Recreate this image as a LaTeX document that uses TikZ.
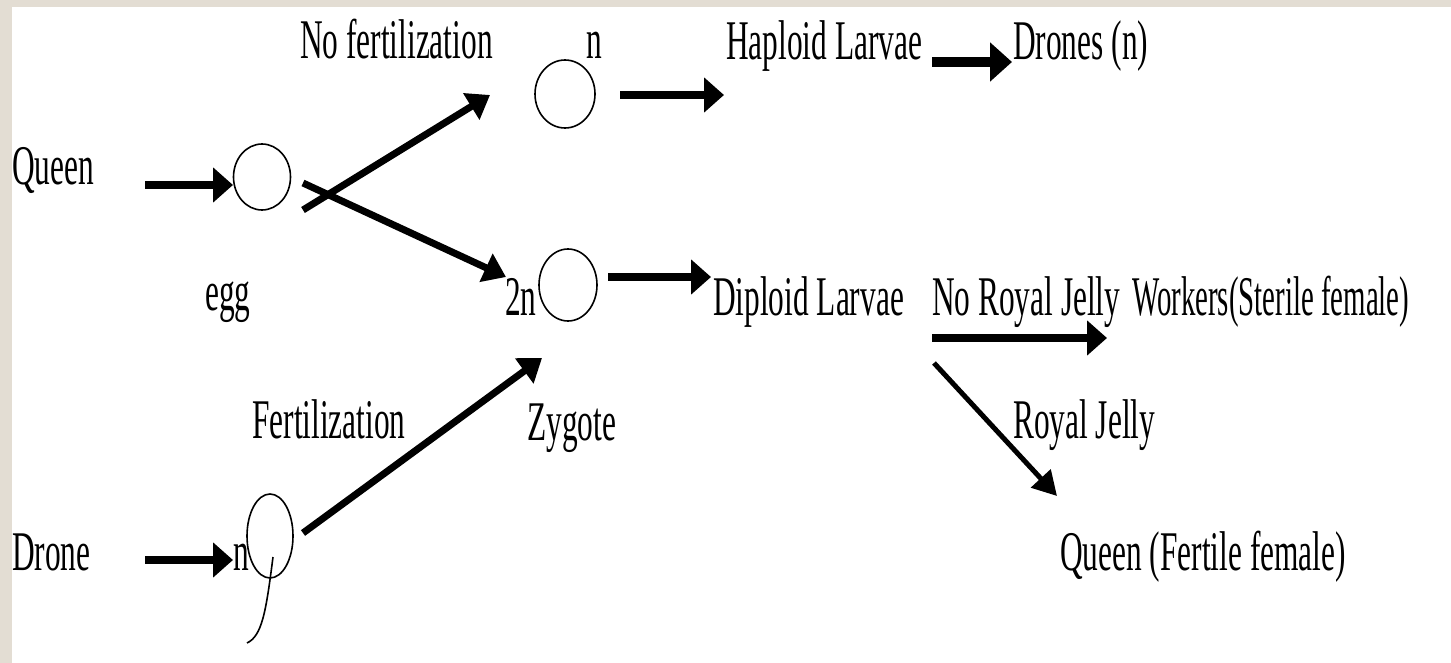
\documentclass[tikz,border=0pt]{standalone}
\usepackage{fontspec}
\setmainfont{Liberation Serif}[FakeStretch=0.56]
\newfontfamily\narrowserif{Liberation Serif}[FakeStretch=0.515]
\usetikzlibrary{arrows.meta,shapes.geometric}
\definecolor{frame}{RGB}{227,221,211}
\tikzset{
  lbl/.style={inner sep=0pt, anchor=base west, font=\fontsize{56}{60}\selectfont},
  cell/.style={ellipse, draw, line width=1.6pt, inner sep=0pt},
  arr/.style={line width=7.5pt, -{Triangle[length=20pt,width=34pt]}},
  darr/.style={line width=7pt, -{Triangle[length=22pt,width=30pt]}}
}
\begin{document}
\begin{tikzpicture}[x=1pt,y=-1pt]
\useasboundingbox (0,0) rectangle (1451,663);
\fill[frame] (0,0) rectangle (1451,663);
\fill[white] (12,7) rectangle (1451,663);

% cells
\node[cell, minimum width=57, minimum height=66] (egg) at (262,177) {};
\node[cell, minimum width=60, minimum height=68] (hap) at (565,94) {};
\node[cell, minimum width=58, minimum height=72] (zyg) at (568,285) {};
\node[cell, minimum width=46, minimum height=84] (sperm) at (270,536) {};

% labels
\node[lbl] (queen) at (12,185) {Queen};
\node[lbl] (egglbl) at (205,310) {egg};
\node[lbl] (nofert) at (300,59) {No fertilization};
\node[lbl] (nlbl) at (586,59) {n};
\node[lbl] (haplar) at (726,60) {Haploid Larvae};
\node[lbl] (drones) at (1013,60) {Drones (n)};
\node[lbl] (twon) at (505,315) {2n};
\node[lbl] (diplar) at (713,315) {Diploid Larvae};
\node[lbl] (noroyal) at (932,315) {No Royal Jelly};
\node[lbl, font=\fontsize{56}{60}\narrowserif] (workers) at (1132,315) {Workers(Sterile female)};
\node[lbl] (fert) at (252,438) {Fertilization};
\node[lbl] (zygote) at (527,440) {Zygote};
\node[lbl] (royal) at (1013,438) {Royal Jelly};
\node[lbl] (queenf) at (1060,570) {Queen (Fertile female)};
\node[lbl] (drone) at (12,570) {Drone};
\node[lbl] (nsp) at (233,570) {n};

% arrow end points
\coordinate (qa) at (145,185);
\coordinate (qb) at (233,185);
\coordinate (ua) at (303,210);
\coordinate (ub) at (490,95);
\coordinate (la) at (303,183);
\coordinate (lb) at (506,277);
\coordinate (ha) at (620,95);
\coordinate (hb) at (724,95);
\coordinate (da) at (932,62);
\coordinate (db) at (1012,62);
\coordinate (za) at (608,277);
\coordinate (zb) at (711,277);
\coordinate (wa) at (932,338);
\coordinate (wb) at (1107,338);
\coordinate (ra) at (934,363);
\coordinate (rb) at (1057,496);
\coordinate (fa) at (303,533);
\coordinate (fb) at (542,358);
\coordinate (sa) at (145,560);
\coordinate (sb) at (233,560);
\coordinate (ta) at (273,557);
\coordinate (tb) at (247,643);

% connectors
\draw[arr] (qa) -- (qb);
\draw[darr] (ua) -- (ub);
\draw[darr] (la) -- (lb);
\draw[arr] (ha) -- (hb);
\draw[line width=10pt, -{Triangle[length=22pt,width=38pt]}] (da) -- (db);
\draw[arr] (za) -- (zb);
\draw[arr] (wa) -- (wb);
\draw[line width=5pt, -{Triangle[length=24pt,width=26pt]}] (ra) -- (rb);
\draw[darr] (fa) -- (fb);
\draw[arr] (sa) -- (sb);
\draw[line width=1.6pt] (ta) .. controls (266,612) and (262,636) .. (tb);
\end{tikzpicture}
\end{document}
